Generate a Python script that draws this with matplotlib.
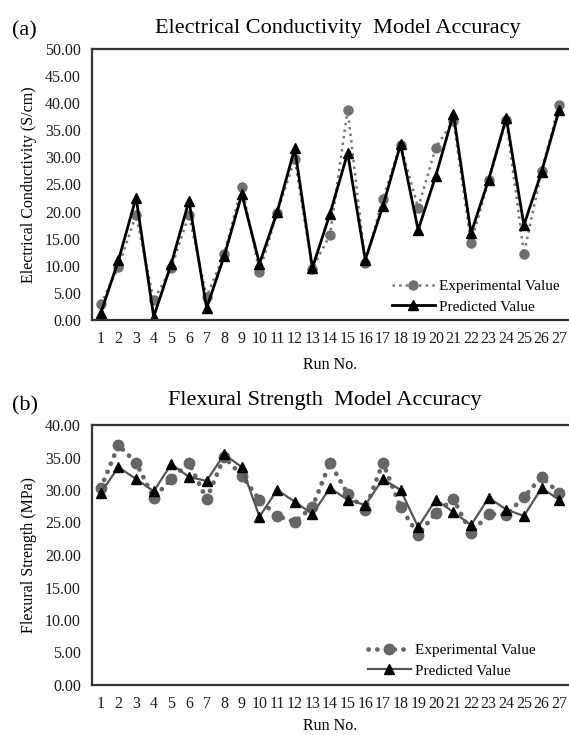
import matplotlib
matplotlib.use("Agg")
import matplotlib.pyplot as plt

plt.rcParams['font.family'] = ['Liberation Serif', 'DejaVu Serif']

runs = list(range(1, 28))

# (a) electrical conductivity, S/cm
ec_exp = [2.9, 9.8, 19.4, 3.6, 9.6, 19.4, 4.3, 12.2, 24.6, 8.9, 19.8, 29.7, 9.5, 15.7,
          38.8, 10.6, 22.4, 32.3, 20.7, 31.8, 36.8, 14.2, 25.8, 36.9, 12.2, 27.5, 39.7]
ec_pred = [1.3, 11.0, 22.6, 0.6, 10.4, 22.0, 2.2, 11.8, 23.2, 10.4, 19.9, 31.7, 9.6, 19.6,
           30.8, 11.1, 21.0, 32.4, 16.6, 26.6, 38.0, 16.0, 25.9, 37.3, 17.5, 27.3, 38.8]

# (b) flexural strength, MPa
fs_exp = [30.3, 36.9, 34.2, 28.8, 31.7, 34.2, 28.6, 35.1, 32.2, 28.5, 26.0, 25.1, 27.4, 34.2,
          29.4, 27.0, 34.2, 27.4, 23.1, 26.5, 28.6, 23.4, 26.3, 26.2, 28.9, 32.0, 29.5]
fs_pred = [29.6, 33.5, 31.7, 29.8, 34.0, 32.0, 31.4, 35.5, 33.5, 25.9, 30.0, 28.2, 26.3, 30.3,
           28.5, 27.7, 31.7, 30.0, 24.3, 28.5, 26.6, 24.6, 28.8, 27.0, 26.0, 30.3, 28.5]

fig = plt.figure(figsize=(5.69, 7.35), dpi=100)
W, H = 569.0, 735.0


def setup_axes(ax, ymax, ylabel, xpad):
    ax.set_xlim(0.5, 27.5)
    ax.set_ylim(0, ymax)
    ax.set_yticks(range(0, ymax + 1, 5))
    ax.set_yticklabels(['%.2f' % v for v in range(0, ymax + 1, 5)])
    ax.set_xticks(runs)
    ax.set_xticklabels([str(r) for r in runs])
    ax.tick_params(axis='both', length=0, labelsize=11.5, colors='#1a1a1a')
    ax.tick_params(axis='x', pad=8)
    ax.tick_params(axis='y', pad=8)
    ax.spines['right'].set_visible(False)
    for s in ['top', 'left', 'bottom']:
        ax.spines[s].set_linewidth(1.6)
        ax.spines[s].set_color('#333333')
    ax.set_xlabel('Run No.', fontsize=11.5, labelpad=xpad)
    ax.set_ylabel(ylabel, fontsize=11.5, labelpad=6)


# top chart
ax1 = fig.add_axes([92 / W, 1 - 320 / H, 476 / W, 271 / H])
ax1.plot(runs, ec_exp, linestyle=':', color='#777777', linewidth=1.8,
         marker='o', markersize=6.5, markerfacecolor='#707070', markeredgecolor='#707070',
         label='Experimental Value')
ax1.plot(runs, ec_pred, linestyle='-', color='black', linewidth=2,
         marker='^', markersize=7.5, markerfacecolor='black', markeredgecolor='black',
         label='Predicted Value')
setup_axes(ax1, 50, 'Electrical Conductivity (S/cm)', 7)
ax1.legend(loc='lower right', bbox_to_anchor=(1.012, -0.028), frameon=False, fontsize=11,
           handlelength=2.8, handletextpad=0.3, labelspacing=0.45)
fig.text(12 / W, 1 - 31 / H, '(a)', fontsize=16, va='center', ha='left')
fig.text(338 / W, 1 - 28 / H, 'Electrical Conductivity  Model Accuracy', fontsize=16,
         va='center', ha='center')

# bottom chart
ax2 = fig.add_axes([92 / W, 1 - 685 / H, 476 / W, 260 / H])
ax2.plot(runs, fs_exp, linestyle=(0, (0.05, 1.8)), color='#666666', linewidth=3.4,
         dash_capstyle='round', marker='o', markersize=7.5,
         markerfacecolor='#666666', markeredgecolor='#666666', label='Experimental Value')
ax2.plot(runs, fs_pred, linestyle='-', color='#555555', linewidth=1.6,
         marker='^', markersize=7.5, markerfacecolor='black', markeredgecolor='black',
         label='Predicted Value')
setup_axes(ax2, 40, 'Flexural Strength (MPa)', 4)
ax2.legend(loc='lower left', bbox_to_anchor=(262 / 476, -0.025), frameon=False, fontsize=11,
           handlelength=2.8, handletextpad=0.3, labelspacing=0.45)
fig.text(12 / W, 1 - 406 / H, '(b)', fontsize=16, va='center', ha='left')
fig.text(325 / W, 1 - 401 / H, 'Flexural Strength  Model Accuracy', fontsize=16,
         va='center', ha='center')

fig.savefig('out.png', dpi=100)
